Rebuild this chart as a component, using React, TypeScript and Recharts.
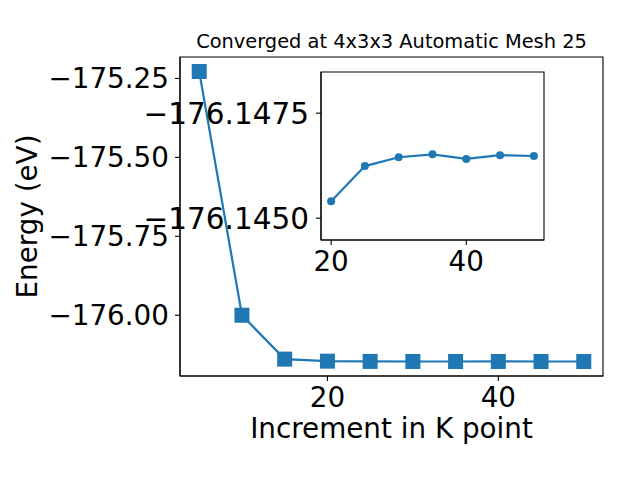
import React from 'react';
import { LineChart, Line, XAxis, YAxis, ReferenceArea } from 'recharts';

// ---- data ----
const kPoints = [5, 10, 15, 20, 25, 30, 35, 40, 45, 50];
const energies = [
  -175.228, -176.0, -176.139, -176.1454, -176.14624, -176.14645, -176.14652, -176.14641, -176.1465, -176.14648,
];
const insetStartK = 20;
const mainXTicks = [20, 40];
const mainYTicks = [-176.0, -175.75, -175.5, -175.25];
const insetXTicks = [20, 40];
const insetYTicks = [-176.1475, -176.145];
const insetYDomain = [-176.14848, -176.14448];
const titleText = 'Converged at 4x3x3 Automatic Mesh 25';
const xLabelText = 'Increment in K point';
const yLabelText = 'Energy (eV)';

const mainData = kPoints.map((k, i) => ({ k, e: energies[i] }));
const insetData = mainData.filter((d) => d.k >= insetStartK);

const pad = (lo: number, hi: number) => {
  const m = (hi - lo) * 0.05;
  return [lo - m, hi + m];
};
const mainXDomain = pad(Math.min(...kPoints), Math.max(...kPoints));
const mainYDomain = pad(Math.min(...energies), Math.max(...energies));
const insetK = insetData.map((d) => d.k);
const insetXDomain = pad(Math.min(...insetK), Math.max(...insetK));

const BLUE = '#1f77b4';
const FONT = 'DejaVu Sans';
const TICK_FS = 27.8;
const minus = (s: string) => s.replace('-', '\u2212');

const lineStyle = { stroke: '#000', strokeWidth: 1.1 };

const makeXTick = () => (props: any) => {
  const { x, y, payload, index } = props;
  return (
    <text key={`xt-${index}`} x={x} y={y} dy="0.71em" textAnchor="middle" fill="#000" fontSize={TICK_FS} fontFamily={FONT}>
      {String(payload.value)}
    </text>
  );
};
const makeYTick = (digits: number, fs: number) => (props: any) => {
  const { x, y, payload, index } = props;
  return (
    <text key={`yt-${index}`} x={x} y={y} dy="0.36em" textAnchor="end" fill="#000" fontSize={fs} fontFamily={FONT}>
      {minus(Number(payload.value).toFixed(digits))}
    </text>
  );
};

const SquareDot = (props: any) => {
  const { cx, cy, index } = props;
  if (cx == null || cy == null) return <g key={`n-${index}`} />;
  const s = 15;
  return <rect key={`sq-${index}`} x={cx - s / 2} y={cy - s / 2} width={s} height={s} fill={BLUE} />;
};

const YLabel = (props: any) => {
  const vb = props.viewBox || { x: 0, y: 57, width: 180, height: 319 };
  const x = vb.x + 36.5;
  const y = vb.y + vb.height / 2;
  return (
    <text
      x={x}
      y={y}
      transform={`rotate(-90, ${x}, ${y})`}
      textAnchor="middle"
      fill="#000"
      fontSize={TICK_FS}
      fontFamily={FONT}
    >
      {yLabelText}
    </text>
  );
};

export default function App() {
  return (
    <div style={{ position: 'absolute', left: 0, top: 0, width: 640, height: 480, background: '#fff', fontFamily: FONT }}>
      <div style={{ position: 'absolute', left: 0, top: 0 }}>
        <LineChart width={640} height={480} data={mainData} margin={{ top: 57, right: 37, bottom: 0, left: 0 }}>
          <XAxis
            dataKey="k"
            type="number"
            domain={mainXDomain}
            ticks={mainXTicks}
            allowDataOverflow
            height={104}
            tickSize={5}
            tickMargin={6}
            tick={makeXTick()}
            axisLine={lineStyle}
            tickLine={lineStyle}
            label={{ value: xLabelText, position: 'insideBottom', offset: 42, fill: '#000', fontSize: TICK_FS, fontFamily: FONT }}
          />
          <YAxis
            dataKey="e"
            type="number"
            domain={mainYDomain}
            ticks={mainYTicks}
            allowDataOverflow
            width={180}
            tickSize={5}
            tickMargin={6}
            tick={makeYTick(2, TICK_FS)}
            axisLine={lineStyle}
            tickLine={lineStyle}
            label={{ content: (p: any) => <YLabel {...p} /> }}
          />
          <ReferenceArea
            x1={mainXDomain[0]}
            x2={mainXDomain[1]}
            y1={mainYDomain[0]}
            y2={mainYDomain[1]}
            fill="none"
            stroke="#000"
            strokeWidth={1.1}
            ifOverflow="visible"
            label={{ value: titleText, position: 'top', offset: 9, fill: '#000', fontSize: 19.4, fontFamily: FONT }}
          />
          <Line
            dataKey="e"
            type="linear"
            stroke={BLUE}
            strokeWidth={2.2}
            dot={SquareDot}
            activeDot={false}
            isAnimationActive={false}
          />
        </LineChart>
      </div>
      <div style={{ position: 'absolute', left: 0, top: 0 }}>
        <LineChart width={640} height={480} data={insetData} margin={{ top: 72, right: 96, bottom: 0, left: 0 }}>
          <XAxis
            dataKey="k"
            type="number"
            domain={insetXDomain}
            ticks={insetXTicks}
            allowDataOverflow
            height={240}
            tickSize={5}
            tickMargin={6}
            tick={makeXTick()}
            axisLine={lineStyle}
            tickLine={lineStyle}
          />
          <YAxis
            dataKey="e"
            type="number"
            domain={insetYDomain}
            reversed
            ticks={insetYTicks}
            allowDataOverflow
            width={321}
            tickSize={5}
            tickMargin={7}
            tick={makeYTick(4, 29.5)}
            axisLine={lineStyle}
            tickLine={lineStyle}
          />
          <ReferenceArea
            x1={insetXDomain[0]}
            x2={insetXDomain[1]}
            y1={insetYDomain[0]}
            y2={insetYDomain[1]}
            fill="none"
            stroke="#000"
            strokeWidth={1.1}
            ifOverflow="visible"
          />
          <Line
            dataKey="e"
            type="linear"
            stroke={BLUE}
            strokeWidth={2.2}
            dot={{ r: 4, fill: BLUE, stroke: BLUE, strokeWidth: 0 }}
            activeDot={false}
            isAnimationActive={false}
          />
        </LineChart>
      </div>
    </div>
  );
}
